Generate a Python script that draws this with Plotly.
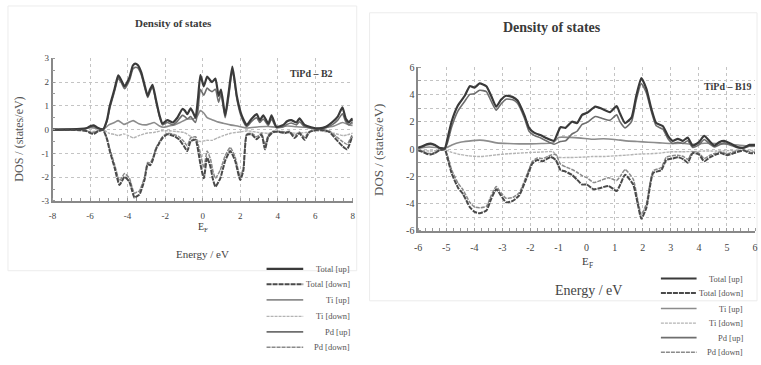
import plotly.graph_objects as go

# ---------------- DATA : TiPd - B2 (left panel) ----------------
b2_up_E = [-8, -7, -6.5, -6.2, -6.0, -5.8, -5.6, -5.3, -5.1, -4.95, -4.7, -4.5, -4.35, -4.16, -3.9, -3.72, -3.6, -3.46, -3.28, -3.1,
           -2.93, -2.8, -2.67, -2.49, -2.3, -2.14, -1.88, -1.6, -1.35, -1.08, -0.95, -0.82, -0.64, -0.5, -0.38, -0.25, -0.12, 0.06, 0.24, 0.38,
           0.5, 0.68, 0.85, 0.98, 1.2, 1.38, 1.58, 1.7, 1.82, 2.08, 2.35, 2.61, 2.88, 3.05, 3.23, 3.5, 3.67, 3.93, 4.3, 4.5,
           4.72, 5.0, 5.16, 5.43, 5.78, 6.22, 6.57, 6.93, 7.2, 7.45, 7.63, 7.8, 7.95, 8.0]
b2_total_up = [0, 0.01, 0.03, 0.06, 0.14, 0.18, 0.08, 0.02, 0.4, 1.0, 1.7, 2.28, 2.1, 1.82, 2.2, 2.7, 2.78, 2.72, 2.43, 1.9,
               1.42, 1.7, 1.89, 1.26, 0.6, 0.26, 0.4, 0.3, 0.5, 0.87, 0.8, 0.65, 0.9, 0.7, 0.5, 1.3, 2.3, 1.82, 2.23, 2.1,
               2.0, 2.15, 1.42, 1.69, 0.6, 1.53, 2.65, 2.1, 1.42, 0.6, 0.19, 0.46, 0.65, 0.4, 0.6, 0.25, 0.6, 0.12, 0.2, 0.35,
               0.4, 0.3, 0.47, 0.2, 0.1, 0.05, 0.12, 0.33, 0.55, 0.94, 0.46, 0.3, 0.45, 0.35]
b2_pd_up = [0, 0.01, 0.02, 0.05, 0.1, 0.12, 0.06, 0.02, 0.35, 0.9, 1.6, 2.15, 2.0, 1.72, 2.08, 2.55, 2.62, 2.6, 2.33, 1.8,
            1.35, 1.6, 1.8, 1.2, 0.55, 0.2, 0.3, 0.2, 0.35, 0.6, 0.55, 0.45, 0.55, 0.4, 0.3, 0.8, 1.7, 1.45, 1.75, 1.65,
            1.6, 1.7, 1.15, 1.5, 0.5, 1.35, 2.5, 2.0, 1.3, 0.5, 0.12, 0.35, 0.5, 0.3, 0.45, 0.18, 0.45, 0.08, 0.12, 0.22,
            0.28, 0.2, 0.33, 0.13, 0.06, 0.03, 0.08, 0.22, 0.4, 0.67, 0.33, 0.2, 0.3, 0.25]
b2_ti_up_E = [-8, -6.5, -6.0, -5.6, -5.3, -5.0, -4.7, -4.5, -4.2, -3.95, -3.7, -3.4, -3.0, -2.8, -2.58, -2.3, -2.1, -1.8, -1.5, -1.2,
              -0.82, -0.5, -0.3, -0.12, 0.06, 0.24, 0.5, 0.77, 1.1, 1.47, 1.9, 2.35, 3.0, 3.5, 4.0, 4.5, 5.0, 5.5, 6.0, 6.5,
              7.0, 7.45, 7.8, 8.0]
b2_ti_up = [0, 0.02, 0.08, 0.05, 0.0, 0.2, 0.3, 0.38, 0.22, 0.3, 0.38, 0.25, 0.2, 0.25, 0.3, 0.15, 0.1, 0.15, 0.2, 0.3,
            0.45, 0.45, 0.55, 0.8, 0.7, 0.5, 0.42, 0.33, 0.27, 0.2, 0.14, 0.07, 0.12, 0.13, 0.1, 0.15, 0.12, 0.1, 0.05, 0.08,
            0.15, 0.3, 0.2, 0.18]
b2_dn_E = [-8, -7, -6.5, -6.2, -6.0, -5.8, -5.6, -5.3, -5.1, -4.95, -4.7, -4.43, -4.16, -3.9, -3.75, -3.63, -3.5, -3.37, -3.1, -2.93,
           -2.8, -2.67, -2.49, -2.3, -2.14, -1.88, -1.52, -1.26, -1.0, -0.82, -0.64, -0.38, -0.12, 0.06, 0.24, 0.42, 0.55, 0.68, 0.94, 1.2,
           1.47, 1.73, 2.0, 2.17, 2.35, 2.61, 2.88, 3.14, 3.32, 3.5, 3.76, 4.1, 4.37, 4.63, 4.9, 5.16, 5.43, 5.7, 6.22, 6.75,
           7.1, 7.45, 7.7, 7.95, 8.0]
b2_total_down = [0, -0.01, -0.03, -0.06, -0.14, -0.18, -0.08, -0.02, -0.4, -0.9, -1.58, -2.33, -1.99, -2.2, -2.6, -2.87, -2.8, -2.74, -2.12, -1.45,
                 -1.5, -1.3, -0.83, -0.55, -0.35, -0.2, -0.27, -0.41, -0.69, -0.9, -0.49, -0.43, -1.45, -2.05, -1.17, -1.58, -2.1, -2.4, -2.05, -1.31,
                 -0.9, -1.31, -2.12, -1.72, -0.22, -0.2, -0.4, -0.22, -0.83, -0.3, -0.1, -0.1, -0.15, -0.1, -0.35, -0.15, -0.43, -0.1, 0, -0.1,
                 -0.4, -0.69, -0.83, -0.35, -0.3]
b2_pd_down = [0, -0.01, -0.02, -0.05, -0.1, -0.12, -0.06, -0.02, -0.35, -0.8, -1.45, -2.15, -1.85, -2.05, -2.45, -2.68, -2.62, -2.58, -2.0, -1.38,
              -1.4, -1.22, -0.78, -0.5, -0.3, -0.15, -0.2, -0.3, -0.5, -0.68, -0.35, -0.3, -1.0, -1.6, -0.9, -1.25, -1.75, -2.05, -1.7, -1.1,
              -0.75, -1.15, -2.0, -1.6, -0.18, -0.15, -0.3, -0.15, -0.65, -0.22, -0.07, -0.07, -0.1, -0.07, -0.25, -0.1, -0.32, -0.07, 0, -0.06,
              -0.28, -0.5, -0.62, -0.25, -0.22]
b2_ti_dn_E = [-8, -6.5, -6.0, -5.6, -5.3, -5.0, -4.7, -4.5, -4.2, -3.95, -3.7, -3.4, -3.0, -2.6, -2.2, -1.8, -1.4, -1.0, -0.6, -0.3,
              -0.1, 0.2, 0.5, 0.8, 1.1, 1.5, 2.0, 2.4, 3.0, 3.5, 4.0, 4.5, 5.0, 5.5, 6.0, 6.5, 7.0, 7.5, 8.0]
b2_ti_down = [0, -0.02, -0.08, -0.05, 0, -0.15, -0.2, -0.25, -0.18, -0.25, -0.35, -0.25, -0.15, -0.12, -0.05, -0.05, -0.08, -0.12, -0.3, -0.45,
              -0.5, -0.45, -0.45, -0.35, -0.25, -0.15, -0.1, -0.05, -0.12, -0.15, -0.1, -0.12, -0.15, -0.12, -0.05, -0.08, -0.15, -0.25, -0.15]

# ---------------- DATA : TiPd - B19 (right panel) ----------------
b19_up_E = [-6, -5.85, -5.7, -5.55, -5.4, -5.25, -5.05, -4.95, -4.81, -4.58, -4.34, -4.16, -3.99, -3.81, -3.57, -3.4, -3.22, -3.05, -2.87, -2.63,
            -2.46, -2.22, -2.05, -1.87, -1.63, -1.34, -1.16, -0.93, -0.75, -0.52, -0.34, -0.16, 0.02, 0.31, 0.54, 0.83, 1.07, 1.19, 1.37, 1.6,
            1.77, 1.95, 2.13, 2.3, 2.48, 2.72, 2.9, 3.07, 3.25, 3.43, 3.6, 3.78, 4.0, 4.19, 4.37, 4.55, 4.72, 4.9, 5.13, 5.37,
            5.6, 5.8, 6.0]
b19_total_up = [0.1, 0.2, 0.35, 0.4, 0.3, 0.1, 0.05, 0.8, 2.0, 3.2, 3.9, 4.6, 4.5, 4.8, 4.6, 3.9, 3.1, 3.6, 3.9, 3.8,
                3.55, 2.5, 1.55, 1.2, 1.0, 0.72, 0.6, 1.6, 1.55, 2.0, 1.9, 2.5, 2.65, 3.1, 2.95, 2.7, 3.15, 2.6, 1.9, 2.3,
                3.9, 5.2, 4.4, 3.0, 1.9, 1.67, 0.96, 0.6, 0.75, 0.6, 0.84, 0.25, 0.5, 0.96, 0.6, 0.25, 0.5, 0.6, 0.4, 0.15,
                0.1, 0.3, 0.3]
b19_pd_up = [0.08, 0.15, 0.3, 0.33, 0.25, 0.08, 0.03, 0.5, 1.6, 2.8, 3.5, 4.0, 4.05, 4.3, 4.2, 3.5, 2.85, 3.3, 3.65, 3.6,
             3.35, 2.3, 1.3, 1.0, 0.8, 0.5, 0.35, 0.55, 0.6, 1.1, 1.3, 1.8, 1.95, 2.38, 2.25, 2.1, 2.5, 2.0, 1.55, 2.0,
             3.6, 4.8, 4.1, 2.8, 1.7, 1.45, 0.75, 0.4, 0.5, 0.4, 0.6, 0.12, 0.3, 0.7, 0.4, 0.15, 0.3, 0.45, 0.28, 0.1,
             0.07, 0.2, 0.22]
b19_ti_E = [-6, -5.6, -5.3, -5.05, -4.8, -4.5, -4.2, -3.8, -3.5, -3.2, -2.8, -2.4, -2.0, -1.6, -1.2, -1.0, -0.6, -0.2, 0.2, 0.6,
            1.0, 1.4, 1.8, 2.2, 2.6, 3.0, 3.4, 3.8, 4.2, 4.6, 5.0, 5.4, 5.8, 6.0]
b19_ti_up = [0.05, 0.15, 0.1, 0.05, 0.3, 0.5, 0.58, 0.65, 0.58, 0.45, 0.4, 0.38, 0.38, 0.4, 0.45, 0.85, 0.85, 0.8, 0.72, 0.75,
             0.7, 0.6, 0.55, 0.5, 0.45, 0.4, 0.42, 0.35, 0.42, 0.4, 0.35, 0.3, 0.2, 0.2]
b19_ti_down = [-0.05, -0.15, -0.1, -0.05, -0.25, -0.4, -0.5, -0.55, -0.5, -0.42, -0.35, -0.3, -0.25, -0.22, -0.2, -0.6, -0.62, -0.6, -0.55, -0.55,
               -0.5, -0.45, -0.38, -0.35, -0.3, -0.2, -0.2, -0.18, -0.15, -0.15, -0.12, -0.1, -0.1, -0.1]
b19_dn_E = [-6, -5.85, -5.7, -5.55, -5.4, -5.25, -5.05, -4.95, -4.81, -4.58, -4.4, -4.16, -3.99, -3.81, -3.57, -3.4, -3.22, -3.05, -2.87, -2.63,
            -2.4, -2.16, -1.93, -1.75, -1.57, -1.28, -1.1, -0.93, -0.75, -0.52, -0.34, -0.16, 0.01, 0.25, 0.5, 0.78, 1.07, 1.2, 1.37, 1.66,
            1.8, 1.95, 2.13, 2.37, 2.66, 2.84, 3.05, 3.25, 3.45, 3.6, 3.78, 4.0, 4.19, 4.4, 4.6, 4.78, 5.0, 5.25, 5.6, 5.8,
            6.0]
b19_total_down = [-0.1, -0.2, -0.35, -0.4, -0.3, -0.1, -0.05, -0.7, -1.76, -2.83, -3.3, -4.25, -4.6, -4.7, -4.5, -3.66, -2.95, -3.4, -3.9, -3.8,
                  -3.4, -2.24, -1.05, -0.8, -0.9, -0.58, -0.8, -1.53, -1.65, -1.9, -2.24, -2.6, -2.6, -2.95, -2.85, -2.7, -3.07, -2.6, -1.88, -2.6,
                  -3.8, -5.1, -4.3, -1.76, -1.55, -0.8, -0.7, -0.6, -0.75, -1.0, -0.3, -0.4, -0.9, -0.6, -0.4, -0.3, -0.45, -0.3, -0.1, -0.3,
                  -0.3]
b19_pd_down = [-0.08, -0.15, -0.3, -0.33, -0.25, -0.08, -0.03, -0.5, -1.5, -2.5, -3.0, -3.9, -4.25, -4.3, -4.2, -3.4, -2.75, -3.2, -3.6, -3.55,
               -3.2, -2.05, -0.9, -0.65, -0.7, -0.45, -0.4, -1.1, -1.3, -1.5, -1.7, -1.95, -2.1, -2.45, -2.3, -2.1, -2.3, -2.0, -1.5, -2.2,
               -3.5, -4.8, -4.0, -1.6, -1.35, -0.6, -0.5, -0.45, -0.55, -0.75, -0.2, -0.3, -0.7, -0.45, -0.3, -0.2, -0.35, -0.2, -0.07, -0.2,
               -0.22]

legend_names = ["Total [up]", "Total [down]", "Ti [up]", "Ti [down]", "Pd [up]", "Pd [down]"]
b2_xticks = [-8, -6, -4, -2, 0, 2, 4, 6, 8]
b2_yticks = [-3, -2, -1, 0, 1, 2, 3]
b19_xticks = [-6, -5, -4, -3, -2, -1, 0, 1, 2, 3, 4, 5, 6]
b19_yticks = [-6, -4, -2, 0, 2, 4, 6]

# ---------------- STYLE ----------------
W, H = 761, 365
def px(x): return x / W
def py(y): return 1 - y / H

SERIF = "Liberation Serif"
style = {
    "Total [up]":   dict(color="#3a3a3a", width=2.2, dash="solid"),
    "Total [down]": dict(color="#4a4a4a", width=2.0, dash="5px,1px"),
    "Ti [up]":      dict(color="#8c8c8c", width=1.6, dash="solid"),
    "Ti [down]":    dict(color="#b4b4b4", width=1.4, dash="3px,1px"),
    "Pd [up]":      dict(color="#6e6e6e", width=1.6, dash="solid"),
    "Pd [down]":    dict(color="#8a8a8a", width=1.5, dash="4px,1px"),
}

panels = [
    ("x", "y", [
        ("Ti [up]", b2_ti_up_E, b2_ti_up), ("Ti [down]", b2_ti_dn_E, b2_ti_down),
        ("Pd [up]", b2_up_E, b2_pd_up), ("Pd [down]", b2_dn_E, b2_pd_down),
        ("Total [up]", b2_up_E, b2_total_up), ("Total [down]", b2_dn_E, b2_total_down)]),
    ("x2", "y2", [
        ("Ti [up]", b19_ti_E, b19_ti_up), ("Ti [down]", b19_ti_E, b19_ti_down),
        ("Pd [up]", b19_up_E, b19_pd_up), ("Pd [down]", b19_dn_E, b19_pd_down),
        ("Total [up]", b19_up_E, b19_total_up), ("Total [down]", b19_dn_E, b19_total_down)]),
]

fig = go.Figure()
for xa, ya, series in panels:
    for name, ex, val in series:
        assert len(ex) == len(val), (name, len(ex), len(val))
        fig.add_trace(go.Scatter(x=ex, y=val, xaxis=xa, yaxis=ya, mode="lines", name=name,
                                 showlegend=False, hoverinfo="skip",
                                 line=dict(shape="spline", smoothing=0.5, **style[name])))

shapes = []
annotations = []

# panel frames (faint boxes)
shapes.append(dict(type="rect", xref="paper", yref="paper", x0=px(4), x1=px(356), y0=py(274), y1=py(1),
                   line=dict(color="#ececec", width=1), fillcolor="rgba(0,0,0,0)", layer="below"))
shapes.append(dict(type="rect", xref="paper", yref="paper", x0=px(369), x1=px(760), y0=py(305), y1=py(8),
                   line=dict(color="#ececec", width=1), fillcolor="rgba(0,0,0,0)", layer="below"))

# manual legends
def add_legend(x0, x1, xtext, rows, fsize):
    for name, yy in zip(legend_names, rows):
        st = style[name]
        shapes.append(dict(type="line", xref="paper", yref="paper", x0=px(x0), x1=px(x1), y0=py(yy), y1=py(yy),
                           line=dict(color=st["color"], width=st["width"], dash=st["dash"])))
        annotations.append(dict(text=name, xref="paper", yref="paper", x=px(xtext), y=py(yy), xanchor="right",
                                yanchor="middle", showarrow=False, font=dict(family=SERIF, size=fsize, color="#555")))

add_legend(265, 302, 351, [272, 288, 304, 321, 337, 353], 8.5)
add_legend(663, 699, 748, [282, 297, 313, 328, 343, 358], 8.5)

def txt(text, x, y, size, bold=False, angle=0, color="#3a3a3a"):
    annotations.append(dict(text=f"<b>{text}</b>" if bold else text, xref="paper", yref="paper",
                            x=px(x), y=py(y), xanchor="center", yanchor="middle", showarrow=False,
                            textangle=angle, font=dict(family=SERIF, size=size, color=color)))

txt("Density of states", 171, 19, 11, bold=True)
txt("Density of states", 553, 23, 14, bold=True)
txt("TiPd – B2", 310, 71, 10, bold=True)
txt("TiPd – B19", 731, 84, 10, bold=True)
txt("DOS / (states/eV)", 15, 138, 12, angle=-90, color="#555")
txt("DOS / (states/eV)", 378, 150, 13, angle=-90, color="#555")
# E_F labels: "E" with a smaller, lowered "F"
txt("E", 199, 228, 10)
txt("F", 204, 232, 7)
txt("E", 586.5, 264, 11)
txt("F", 592, 268.5, 7.5)
txt("Energy / eV", 200, 257, 11, color="#444")
txt("Energy / eV", 590, 294, 14, color="#444")

grid = dict(showgrid=True, gridcolor="#c4c4c4", griddash="dot", gridwidth=1, zeroline=False,
            showline=True, linecolor="#888", linewidth=1.5, ticks="", fixedrange=True)

fig.update_layout(
    width=W, height=H, margin=dict(l=0, r=0, t=0, b=0),
    paper_bgcolor="white", plot_bgcolor="white", showlegend=False,
    xaxis=dict(domain=[px(49), px(352)], range=[-8, 8], anchor="y", tickvals=b2_xticks,
               ticktext=[str(v) for v in b2_xticks], ticklabelstandoff=6,
               tickfont=dict(family=SERIF, size=9, color="#444"),
               minor=dict(dtick=0.5, ticks="inside", ticklen=3, tickcolor="#999", showgrid=False), **grid),
    yaxis=dict(domain=[py(202), py(55)], range=[-3, 3], anchor="x", tickvals=b2_yticks,
               ticktext=[str(v) for v in b2_yticks],
               tickfont=dict(family=SERIF, size=9, color="#444"),
               minor=dict(dtick=0.5, ticks="inside", ticklen=3, tickcolor="#999", showgrid=False), **grid),
    xaxis2=dict(domain=[px(418), px(758)], range=[-6, 6], anchor="y2", tickvals=b19_xticks,
                ticktext=[str(v) for v in b19_xticks], ticklabelstandoff=6,
                tickfont=dict(family=SERIF, size=10, color="#444"),
                minor=dict(dtick=0.25, ticks="inside", ticklen=3, tickcolor="#999", showgrid=False), **grid),
    yaxis2=dict(domain=[py(233), py(64)], range=[-6, 6], anchor="x2", tickvals=b19_yticks,
                ticktext=[str(v) for v in b19_yticks],
                tickfont=dict(family=SERIF, size=10, color="#444"),
                minor=dict(dtick=1, ticks="inside", ticklen=3, tickcolor="#999", showgrid=True,
                           gridcolor="#c4c4c4", griddash="dot"), **grid),
    shapes=shapes, annotations=annotations,
)

fig.write_html("out.html")
